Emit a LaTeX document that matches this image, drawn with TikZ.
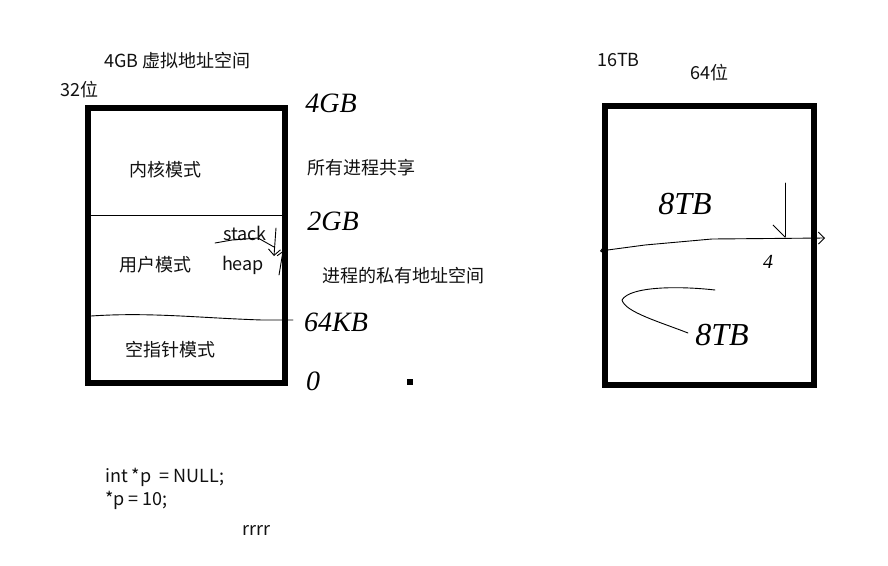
\documentclass[tikz,border=0pt]{standalone}
\usepackage{fontspec}
\usetikzlibrary{arrows.meta}
\setmainfont{Noto Sans CJK SC}
\newfontfamily\handfont{Liberation Serif}
\definecolor{txtc}{HTML}{111111}
\begin{document}
\begin{tikzpicture}[x=1pt,y=-1pt,
  every node/.style={inner sep=0pt, text=txtc},
  lbl/.style={font=\fontsize{18}{21}\selectfont},
  memsbox/.style={draw=black, line width=6pt, inner sep=0pt},
  hand/.style={draw=black, line width=0.9pt, line cap=round, line join=round},
  handtxt/.style={font=\handfont\itshape\fontsize{28}{30}\selectfont, text=black},
  thin/.style={draw=black, line width=0.9pt}]
\useasboundingbox[fill=white] (0,0) rectangle (888,565);

% boxes
\node[memsbox, minimum width=197pt, minimum height=275pt] (L) at (186.5,245.5) {};
\node[memsbox, minimum width=209pt, minimum height=279pt] (R) at (709.5,245.5) {};

% left box dividers
\coordinate (d1a) at (91,215);
\coordinate (d1b) at (282,215);
\draw[thin] (d1a) -- (d1b);
\coordinate (w1) at (91,316);
\coordinate (w2) at (293,320);
\draw[hand] (w1) .. controls (150,312) and (200,318) .. (262,320) -- (w2);

% labels
\node[lbl, anchor=west] (title) at (104,61) {4GB 虚拟地址空间};
\node[lbl, anchor=west] (b32) at (60,90) {32位};
\node[lbl] (kern) at (165,170) {内核模式};
\node[lbl] (user) at (155,265) {用户模式};
\node[lbl] (nullm) at (170,350) {空指针模式};
\node[lbl] (stack) at (245,233) {stack};
\node[lbl] (heap) at (243,265) {heap};
\node[lbl, anchor=west] (shared) at (307,168) {所有进程共享};
\node[lbl, anchor=west] (priv) at (322,276) {进程的私有地址空间};
\node[lbl, anchor=west] (tb16) at (597,60) {16TB};
\node[lbl, anchor=west] (b64) at (690,73) {64位};
\node[lbl, anchor=west] (c1) at (105,477) {int *p \ = NULL;};
\node[lbl, anchor=west] (c2) at (105,500) {*p = 10;};
\node[lbl, anchor=west] (c3) at (242,530) {rrrr};

% stack / heap arrows
\coordinate (s1) at (215,243);
\coordinate (s2) at (274,247);
\draw[hand] (s1) -- (232,240) -- (258,238) -- (s2);
\coordinate (sa) at (276,228);
\coordinate (sb) at (274,256);
\draw[hand, -{Straight Barb[length=6pt]}] (sa) -- (sb);
\coordinate (ua) at (279,275);
\coordinate (ub) at (283,251);
\draw[hand, -{Straight Barb[length=5pt]}] (ua) -- (ub);

% handwritten sizes, left
\node[handtxt] (h4) at (331,103) {4GB};
\node[handtxt] (h2) at (333,221) {2GB};
\node[handtxt] (h64) at (336,322) {64KB};
\node[handtxt] (h0) at (313,381) {0};

% dot
\node[fill=black, minimum size=6pt] (dot) at (410,382) {};

% right box
\coordinate (ra) at (600,251);
\coordinate (rb) at (825,238);
\draw[hand, {Straight Barb[length=6pt]}-{Straight Barb[length=6pt]}] (ra) -- (645,245) -- (712,239) -- (rb);
\coordinate (va) at (785,183);
\coordinate (vb) at (785,238);
\draw[hand, -{Straight Barb[length=12pt,right]}] (va) -- (vb);
\node[handtxt, font=\handfont\itshape\fontsize{32}{34}\selectfont] (t8a) at (685,204) {8TB};
\node[handtxt, font=\handfont\itshape\fontsize{32}{34}\selectfont] (t8b) at (722,335) {8TB};
\node[handtxt, font=\handfont\itshape\fontsize{20}{22}\selectfont] (h4r) at (768,262) {4};
\coordinate (l1) at (715,290);
\coordinate (l2) at (688,333);
\draw[hand] (l1) .. controls (680,286) and (630,286) .. (622,300)
  .. controls (625,312) and (660,322) .. (l2);
\end{tikzpicture}
\end{document}
